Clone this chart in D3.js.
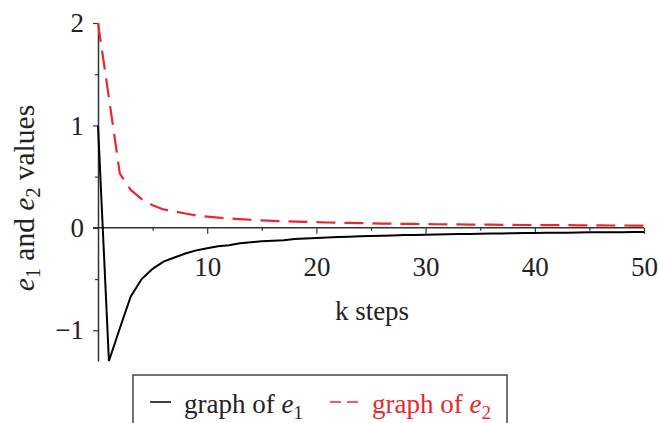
<!DOCTYPE html>
<html>
<head>
<meta charset="utf-8">
<script src="https://cdn.jsdelivr.net/npm/d3@7"></script>
<style>
  body { margin: 0; background: #fff; }
  svg { display: block; }
  text { font-family: "Liberation Serif", "Times New Roman", serif; }
</style>
</head>
<body>
<div id="chart"></div>
<script>
// k steps 0..50
var kSteps = d3.range(0, 51);

// error values
var e1Values = [1, -1.3, -0.98, -0.67, -0.5, -0.4, -0.33, -0.29, -0.25, -0.22,
  -0.2, -0.18, -0.17, -0.15, -0.14, -0.13, -0.125, -0.12, -0.11, -0.105,
  -0.1, -0.095, -0.09, -0.087, -0.083, -0.08, -0.077, -0.074, -0.071, -0.069,
  -0.067, -0.065, -0.063, -0.061, -0.059, -0.057, -0.056, -0.054, -0.053, -0.051,
  -0.05, -0.049, -0.048, -0.047, -0.045, -0.044, -0.043, -0.043, -0.042, -0.041,
  -0.04];
var e2Values = [2, 1.27, 0.53, 0.37, 0.28, 0.22, 0.18, 0.16, 0.14, 0.12,
  0.11, 0.1, 0.092, 0.085, 0.079, 0.073, 0.069, 0.065, 0.061, 0.058,
  0.055, 0.052, 0.05, 0.048, 0.046, 0.044, 0.042, 0.041, 0.039, 0.038,
  0.037, 0.035, 0.034, 0.033, 0.032, 0.031, 0.031, 0.03, 0.029, 0.028,
  0.028, 0.027, 0.026, 0.026, 0.025, 0.024, 0.024, 0.023, 0.023, 0.022,
  0.022];

var xMajorTicks = [10, 20, 30, 40, 50];
var xMinorTicks = [5, 15, 25, 35, 45];
var yMajorTicks = [-1, 0, 1, 2];
var yMinorTicks = [-0.5, 0.5, 1.5];

var width = 659;
var height = 423;
var axisColor = "#333";
var redColor = "#e8282e";
var fontSize = "27px";
var bigFont = "29.5px";
var subSize = "19px";

var svg = d3.select("#chart")
  .append("svg")
  .attr("width", width)
  .attr("height", height);

var x = d3.scaleLinear().domain([0, 50]).range([98, 644]);
var y = d3.scaleLinear().domain([-1.3, 2]).range([361, 23]);

// x axis sits on y = 0
var xMajor = svg.append("g")
  .attr("transform", "translate(0," + y(0) + ")")
  .call(d3.axisBottom(x).tickValues(xMajorTicks).tickSize(6).tickSizeOuter(0).tickPadding(23));
var xMinor = svg.append("g")
  .attr("transform", "translate(0," + y(0) + ")")
  .call(d3.axisBottom(x).tickValues(xMinorTicks).tickSize(3).tickFormat(""));
xMinor.select(".domain").remove();

var yMajor = svg.append("g")
  .attr("transform", "translate(" + x(0) + ",0)")
  .call(d3.axisLeft(y).tickValues(yMajorTicks).tickSize(5).tickSizeOuter(0)
    .tickPadding(9).tickFormat(d3.format("d")));
var yMinor = svg.append("g")
  .attr("transform", "translate(" + x(0) + ",0)")
  .call(d3.axisLeft(y).tickValues(yMinorTicks).tickSize(3).tickFormat(""));
yMinor.select(".domain").remove();

svg.selectAll(".domain").attr("stroke", axisColor).attr("stroke-width", 1.5);
svg.selectAll(".tick line").attr("stroke", axisColor).attr("stroke-width", 1.2);
svg.selectAll(".tick text")
  .attr("fill", "#222")
  .style("font-family", "Liberation Serif, serif")
  .style("font-size", fontSize);

// the x-axis line should start at the y axis
xMajor.select(".domain").attr("d", "M" + (x(0) - 5) + ",0H" + x(50));

var line = d3.line()
  .x(function (d) { return x(d.k); })
  .y(function (d) { return y(d.v); });

var e1Data = kSteps.map(function (k, i) { return { k: k, v: e1Values[i] }; });
var e2Data = kSteps.map(function (k, i) { return { k: k, v: e2Values[i] }; });

svg.append("path")
  .datum(e2Data)
  .attr("d", line)
  .attr("fill", "none")
  .attr("stroke", redColor)
  .attr("stroke-width", 2.2)
  .attr("stroke-dasharray", "19,9");

svg.append("path")
  .datum(e1Data)
  .attr("d", line)
  .attr("fill", "none")
  .attr("stroke", "#000")
  .attr("stroke-width", 2);

// axis titles
svg.append("text")
  .attr("x", 372)
  .attr("y", 320)
  .attr("text-anchor", "middle")
  .style("font-size", fontSize)
  .attr("fill", "#222")
  .text("k steps");

var yTitle = svg.append("text")
  .attr("transform", "translate(34,198) rotate(-90)")
  .attr("text-anchor", "middle")
  .style("font-size", bigFont)
  .attr("fill", "#222");
yTitle.append("tspan").style("font-style", "italic").text("e");
yTitle.append("tspan").attr("dy", 6).style("font-size", "20px").text("1");
yTitle.append("tspan").attr("dy", -6).text(" and ");
yTitle.append("tspan").style("font-style", "italic").text("e");
yTitle.append("tspan").attr("dy", 6).style("font-size", "20px").text("2");
yTitle.append("tspan").attr("dy", -6).text(" values");

// legend
var legend = svg.append("g");
legend.append("rect")
  .attr("x", 133)
  .attr("y", 375)
  .attr("width", 374)
  .attr("height", 70)
  .attr("fill", "#fff")
  .attr("stroke", "#444")
  .attr("stroke-width", 1.5);

legend.append("line")
  .attr("x1", 150).attr("x2", 171)
  .attr("y1", 402).attr("y2", 402)
  .attr("stroke", "#000").attr("stroke-width", 1.5);

var t1 = legend.append("text")
  .attr("x", 184).attr("y", 413)
  .style("font-size", fontSize)
  .attr("fill", "#222");
t1.append("tspan").text("graph of ");
t1.append("tspan").style("font-style", "italic").text("e");
t1.append("tspan").attr("dy", 6).style("font-size", subSize).text("1");

legend.append("line")
  .attr("x1", 330).attr("x2", 361)
  .attr("y1", 402).attr("y2", 402)
  .attr("stroke", redColor).attr("stroke-width", 1.5)
  .attr("stroke-dasharray", "11,6");

var t2 = legend.append("text")
  .attr("x", 372).attr("y", 413)
  .style("font-size", fontSize)
  .attr("fill", redColor);
t2.append("tspan").text("graph of ");
t2.append("tspan").style("font-style", "italic").text("e");
t2.append("tspan").attr("dy", 6).style("font-size", subSize).text("2");
</script>
</body>
</html>
